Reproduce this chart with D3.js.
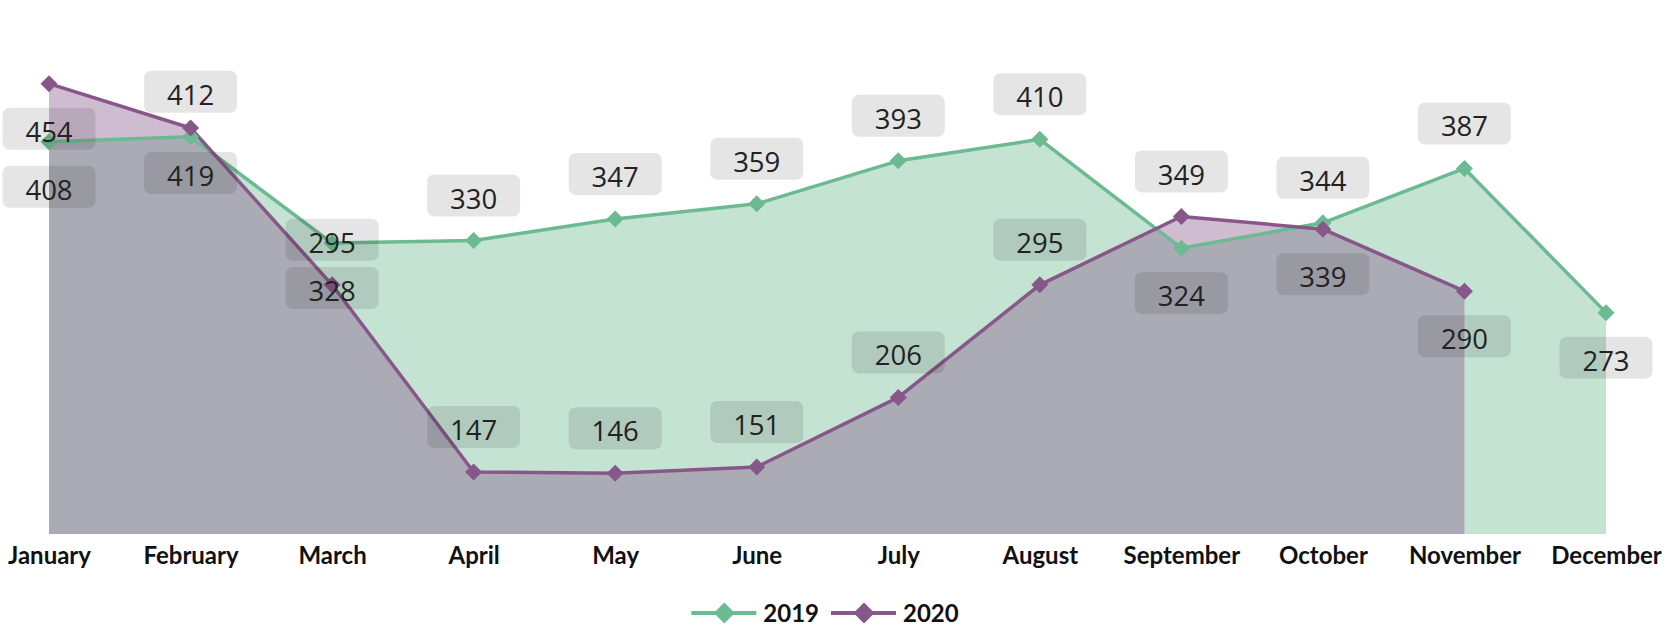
<!DOCTYPE html>
<html>
<head>
<meta charset="utf-8">
<script src="https://cdn.jsdelivr.net/npm/d3@7/dist/d3.min.js"></script>
<style>
  html, body { margin: 0; padding: 0; background: #fff; }
  svg { display: block; }
</style>
</head>
<body>
<svg id="chart" width="1665" height="629"></svg>
<script>
// ---- data ----
const months = ["January","February","March","April","May","June","July","August","September","October","November","December"];
const values2019 = [408, 412, 328, 330, 347, 359, 393, 410, 324, 344, 387, 273];
const values2020 = [454, 419, 295, 147, 146, 151, 206, 295, 349, 339, 290];
const seriesNames = ["2019", "2020"];
// label side per point: 1 = above the point, -1 = below
const labelSide2019 = [-1, 1, -1, 1, 1, 1, 1, 1, -1, 1, 1, -1];
const labelSide2020 = [-1, -1, 1, 1, 1, 1, 1, 1, 1, -1, -1];

// ---- styles ----
const colors = ["#6bba91", "#87578a"];
const W = 1665, H = 629;
const svg = d3.select("#chart");

const x = d3.scalePoint().domain(months).range([49, 1606]);
const y = d3.scaleLinear().domain([98, 500]).range([534, 25.5]);

const series = [
  { name: seriesNames[0], values: values2019, sides: labelSide2019, color: colors[0] },
  { name: seriesNames[1], values: values2020, sides: labelSide2020, color: colors[1] }
].map(s => ({ ...s, pts: s.values.map((v, i) => ({ m: months[i], v, side: s.sides[i] })) }));

const area = d3.area().x(d => x(d.m)).y0(y(98)).y1(d => y(d.v));
const line = d3.line().x(d => x(d.m)).y(d => y(d.v));

// areas
series.forEach(s => {
  svg.append("path").datum(s.pts).attr("d", area)
    .attr("fill", s.color).attr("fill-opacity", 0.4);
});
// lines
series.forEach(s => {
  svg.append("path").datum(s.pts).attr("d", line)
    .attr("fill", "none").attr("stroke", s.color).attr("stroke-width", 3.5)
    .attr("stroke-linejoin", "round");
});
// symbols
const diamond = (cx, cy, r) => `M${cx},${cy - r}L${cx + r},${cy}L${cx},${cy + r}L${cx - r},${cy}Z`;
series.forEach(s => {
  svg.append("g").selectAll("path").data(s.pts).join("path")
    .attr("d", d => diamond(x(d.m), y(d.v), 8.5))
    .attr("fill", s.color);
});
// labels
const boxW = 93, boxH = 42, off = 45;
series.forEach(s => {
  const g = svg.append("g").selectAll("g").data(s.pts).join("g")
    .attr("transform", d => `translate(${x(d.m)},${y(d.v) - d.side * off})`);
  g.append("rect")
    .attr("x", -boxW / 2).attr("y", -boxH / 2).attr("width", boxW).attr("height", boxH)
    .attr("rx", 7).attr("fill", "rgba(0,0,0,0.1)");
  g.append("text")
    .attr("text-anchor", "middle").attr("y", 13)
    .attr("font-family", "'Open Sans', 'Noto Sans', sans-serif")
    .attr("font-size", 27.5).attr("fill", "#222")
    .text(d => d.v);
});

// x axis labels
const xAxis = d3.axisBottom(x).tickSize(0).tickPadding(0);
const ax = svg.append("g").attr("transform", `translate(0,${534})`).call(xAxis);
ax.select(".domain").remove();
ax.selectAll("text")
  .attr("dy", null).attr("y", 30)
  .attr("font-family", "Lato, 'Open Sans', sans-serif")
  .attr("font-weight", "bold").attr("font-size", 24).attr("fill", "#111");

// legend
const legend = svg.append("g");
let lx = 0;
series.forEach((s, i) => {
  const it = legend.append("g").attr("transform", `translate(${lx},0)`);
  it.append("line").attr("x1", 0).attr("x2", 65).attr("y1", 0).attr("y2", 0)
    .attr("stroke", s.color).attr("stroke-width", 4);
  it.append("path").attr("d", diamond(33, 0, 10.5)).attr("fill", s.color);
  const t = it.append("text").attr("x", 72).attr("y", 9)
    .attr("font-family", "Lato, 'Open Sans', sans-serif")
    .attr("font-weight", "bold").attr("font-size", 24).attr("fill", "#111")
    .text(s.name);
  const tw = t.node().getComputedTextLength();
  lx += 72 + tw + 12;
});
const legendW = lx - 12;
legend.attr("transform", `translate(${825 - legendW / 2},613)`);
</script>
</body>
</html>
